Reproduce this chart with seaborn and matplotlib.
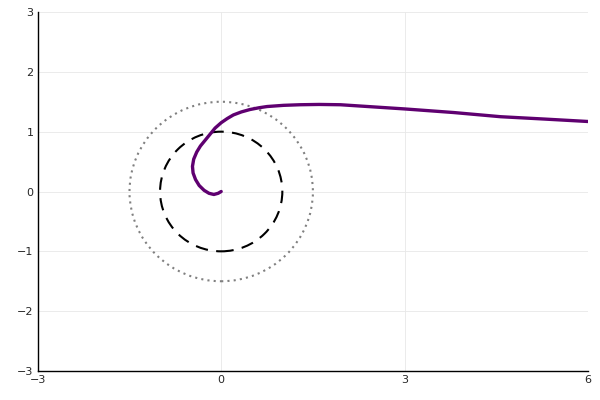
import matplotlib
matplotlib.use("Agg")
import matplotlib.pyplot as plt
from matplotlib.patches import Circle
import pandas as pd
import seaborn as sns

# spiral points
curve_x = [0.0, -0.05, -0.12, -0.20, -0.28, -0.36, -0.42, -0.46, -0.47, -0.45,
           -0.40, -0.34, -0.26, -0.18, -0.10, 0.0, 0.10, 0.20, 0.33, 0.47,
           0.62, 0.75, 1.02, 1.29, 1.60, 1.95, 2.40, 3.0, 3.8, 4.57,
           5.3, 6.0]
curve_y = [0.0, -0.03, -0.05, -0.03, 0.02, 0.10, 0.20, 0.31, 0.42, 0.54,
           0.66, 0.76, 0.86, 0.96, 1.06, 1.15, 1.22, 1.28, 1.33, 1.37,
           1.40, 1.42, 1.44, 1.45, 1.455, 1.45, 1.42, 1.38, 1.32, 1.25,
           1.21, 1.17]

circle_radii = [1.0, 1.5]
circle_styles = [(0, (6, 4)), (0, (1, 2))]
circle_colors = ["black", "gray"]

xticks = [-3, 0, 3, 6]
yticks = [-3, -2, -1, 0, 1, 2, 3]

df = pd.DataFrame({"x": curve_x, "y": curve_y})

sns.set_style("white")
fig = plt.figure(figsize=(6, 4), dpi=100)
ax = fig.add_axes([0.063, 0.0725, 0.917, 0.8975])

for r, ls, c in zip(circle_radii, circle_styles, circle_colors):
    ax.add_patch(Circle((0, 0), r, fill=False, edgecolor=c, linestyle=ls, linewidth=1.5))

sns.lineplot(data=df, x="x", y="y", sort=False, estimator=None,
             color="#5f0070", linewidth=2.4, ax=ax)

ax.set_xlim(-3, 6)
ax.set_ylim(-3, 3)
ax.set_xticks(xticks)
ax.set_yticks(yticks)
ax.set_xticklabels([str(t).replace("-", "\u2212") for t in xticks])
ax.set_yticklabels([str(t).replace("-", "\u2212") for t in yticks])
ax.set_xlabel("")
ax.set_ylabel("")
ax.grid(True, color="#e8e8e8", linewidth=0.6)
ax.set_axisbelow(True)
for side in ["top", "right"]:
    ax.spines[side].set_visible(False)
for side in ["left", "bottom"]:
    ax.spines[side].set_color("black")
    ax.spines[side].set_linewidth(1)
ax.tick_params(direction="in", length=3, width=0.6, labelsize=8, pad=3)

fig.savefig("out.png", dpi=100)
